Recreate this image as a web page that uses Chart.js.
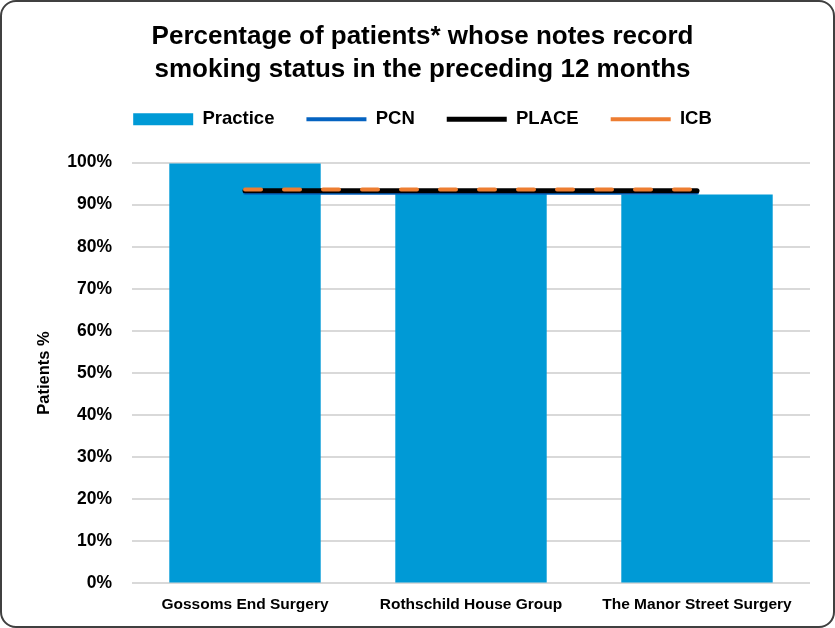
<!DOCTYPE html>
<html>
<head>
<meta charset="utf-8">
<script src="https://cdn.jsdelivr.net/npm/chart.js@4"></script>
<style>
  html, body { margin: 0; padding: 0; background: #fff; }
  #wrap { position: relative; width: 835px; height: 628px; }
  #frame {
    position: absolute; left: 0; top: 0; width: 831px; height: 624px;
    border: 2px solid #404040; border-radius: 16px; pointer-events: none;
  }
</style>
</head>
<body>
<div id="wrap">
  <canvas id="chart" width="835" height="628"></canvas>
  <div id="frame"></div>
</div>
<script>
const practices = ['Gossoms End Surgery', 'Rothschild House Group', 'The Manor Street Surgery'];
const practiceValues = [99.8, 92.6, 92.4];
const pcnValues = [92.8, 92.8, 92.8];
const placeValues = [93.3, 93.3, 93.3];
const icbValues = [93.6, 93.6, 93.6];
const yTicks = [0, 10, 20, 30, 40, 50, 60, 70, 80, 90, 100];

const font = 'Arial, "Liberation Sans", sans-serif';

// legend needs some extra room below it before the plot starts
const legendGap = {
  id: 'legendGap',
  beforeLayout(chart) {
    const legend = chart.legend;
    if (!legend || legend._gapPatched) return;
    const fit = legend.fit;
    legend.fit = function () {
      fit.call(this);
      this.height += 24;
    };
    legend._gapPatched = true;
  }
};

new Chart(document.getElementById('chart'), {
  type: 'bar',
  data: {
    labels: practices,
    datasets: [
      {
        label: 'Practice',
        data: practiceValues,
        backgroundColor: '#009ad6',
        borderWidth: 0,
        barPercentage: 0.67,
        categoryPercentage: 1,
        pointStyle: 'rect',
        order: 4
      },
      {
        type: 'line',
        label: 'PCN',
        data: pcnValues,
        borderColor: '#0563c1',
        backgroundColor: '#0563c1',
        borderWidth: 4,
        borderCapStyle: 'round',
        pointRadius: 0,
        pointStyle: 'line',
        order: 3
      },
      {
        type: 'line',
        label: 'PLACE',
        data: placeValues,
        borderColor: '#000000',
        backgroundColor: '#000000',
        borderWidth: 5,
        borderCapStyle: 'round',
        pointRadius: 0,
        pointStyle: 'line',
        order: 2
      },
      {
        type: 'line',
        label: 'ICB',
        data: icbValues,
        borderColor: '#ed7d31',
        backgroundColor: '#ed7d31',
        borderWidth: 4,
        borderDash: [16, 23],
        borderCapStyle: 'round',
        pointRadius: 0,
        pointStyle: 'line',
        order: 1
      }
    ]
  },
  plugins: [legendGap],
  options: {
    responsive: false,
    animation: false,
    layout: { padding: { left: 35, right: 25, top: 0, bottom: 10 } },
    plugins: {
      title: {
        display: true,
        text: ['Percentage of patients* whose notes record', 'smoking status in the preceding 12 months'],
        color: '#000',
        font: { family: font, size: 26, weight: 'bold', lineHeight: 1.27 },
        padding: { top: 20, bottom: -8 }
      },
      legend: {
        reverse: true,
        labels: {
          usePointStyle: true,
          pointStyleWidth: 60,
          boxHeight: 12,
          padding: 32,
          color: '#000',
          font: { family: font, size: 18.5, weight: 'bold' }
        }
      },
      tooltip: { enabled: false }
    },
    scales: {
      x: {
        grid: { display: false },
        border: { display: false },
        ticks: {
          color: '#000',
          padding: 4,
          maxRotation: 0,
          font: { family: font, size: 15.5, weight: 'bold' }
        }
      },
      y: {
        min: 0,
        max: 100,
        afterBuildTicks: (scale) => { scale.ticks = yTicks.map((v) => ({ value: v })); },
        afterFit: (scale) => { scale.width = 97; },
        grid: { color: '#d9d9d9', lineWidth: 2, drawTicks: false },
        border: { display: false },
        title: {
          display: true,
          text: 'Patients %',
          color: '#000',
          font: { family: font, size: 16.5, weight: 'bold' },
          padding: 0
        },
        ticks: {
          color: '#000',
          padding: 20,
          callback: (v) => v + '%',
          font: { family: font, size: 17.5, weight: 'bold' }
        }
      }
    }
  }
});
</script>
</body>
</html>
